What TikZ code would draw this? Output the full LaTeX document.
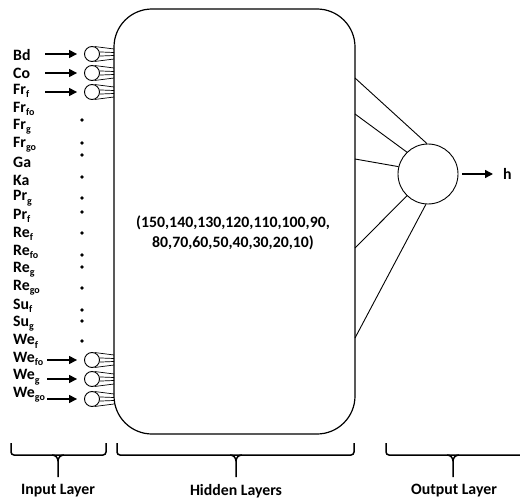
\documentclass[tikz,border=0pt]{standalone}
\usepackage{fontspec}
\setmainfont{Carlito}
\usetikzlibrary{arrows.meta}
\newcommand\sbs[1]{\raisebox{-0.4ex}{\fontsize{10}{10}\selectfont\bfseries #1}}
\tikzset{
  lbl/.style={anchor=west,inner sep=0pt,font=\fontsize{15.8}{15.8}\selectfont\bfseries},
  neuron/.style={circle,draw,line width=0.9pt,minimum size=15pt,inner sep=0pt},
  outneuron/.style={circle,draw,line width=0.9pt,minimum size=60pt,inner sep=0pt},
  inarrow/.style={line width=1.4pt,-{Triangle[length=8pt,width=8pt]}},
  fan/.style={line width=0.7pt},
  conn/.style={line width=0.9pt},
  brace/.style={line width=1.5pt,rounded corners=3pt},
  dot/.style={circle,fill=black,inner sep=0pt,minimum size=3.8pt},
  layertxt/.style={font=\fontsize{15.8}{15.8}\selectfont\bfseries,inner sep=0pt}
}
\begin{document}
\begin{tikzpicture}[x=1pt,y=-1pt]
\useasboundingbox (0,0) rectangle (520,503);
% hidden block
\draw[line width=1.2pt,rounded corners=38pt] (114,9) rectangle (355,434);
\node[font=\fontsize{15.8}{19.5}\selectfont\bfseries,align=center] (hid) at (233,233)
  {(150,140,130,120,110,100,90,\\80,70,60,50,40,30,20,10)};
% labels
\foreach \t [count=\i from 0] in {Bd,Co,Fr\sbs{f},Fr\sbs{fo},Fr\sbs{g},Fr\sbs{go},Ga,Ka,Pr\sbs{g},Pr\sbs{f},Re\sbs{f},Re\sbs{fo},Re\sbs{g},Re\sbs{go},Su\sbs{f},Su\sbs{g},We\sbs{f},We\sbs{fo},We\sbs{g},We\sbs{go}}
  \node[lbl] (l\i) at (13,{55+17.9*\i}) {\t};
% input neurons
\foreach \n/\y/\xs in {a/54/45,b/73/45,c/92/45,d/360/47,e/379/47,f/399/47}{
  \node[neuron] (n\n) at (92,\y) {};
  \coordinate (s\n) at (\xs,\y);
  \draw[inarrow,shorten >=7pt] (s\n) -- (n\n.west);
  \coordinate (r\n1) at (114,\y-5);
  \coordinate (r\n2) at (114,\y-1.5);
  \coordinate (r\n3) at (114,\y+1.5);
  \coordinate (r\n4) at (114,\y+5);
  \draw[fan] (n\n.70) -- (r\n1);
  \draw[fan] (n\n.15) -- (r\n2);
  \draw[fan] (n\n.-15) -- (r\n3);
  \draw[fan] (n\n.-70) -- (r\n4);
}
% dots
\foreach \y [count=\i] in {120,143,155,177,198,212,233,255,267,288,310,321,341}
  \node[dot] (d\i) at (82,\y) {};
% output neuron
\node[outneuron] (out) at (428,174) {};
\foreach \y/\a [count=\i] in {78/92,114/134,159/166,248/226,338/266}{
  \coordinate (e\i) at (355,\y);
  \draw[conn] (e\i) -- (out.\a);
}
\node[layertxt,anchor=west] (h) at (503,174) {h};
\draw[inarrow,shorten >=10pt] (out.east) ++(4,0) coordinate (hs) (hs) -- (h.west);
% braces
\foreach \nm/\l/\m/\r in {ib/11/58/106,hb/117/236/354,ob/386/453/524}{
  \draw[brace] (\l,443) -- (\l,455) -- (\r,455) -- (\r,443);
  \draw[line width=1.5pt] (\m-6,455) to[out=0,in=90] (\m,461) -- (\m,477) coordinate (\nm);
  \draw[line width=1.5pt] (\m+6,455) to[out=180,in=90] (\m,461);
}
\node[layertxt] (il) at (58,491) {Input Layer};
\node[layertxt] (hl) at (236,491) {Hidden Layers};
\node[layertxt] (ol) at (454,491) {Output Layer};
\end{tikzpicture}
\end{document}
